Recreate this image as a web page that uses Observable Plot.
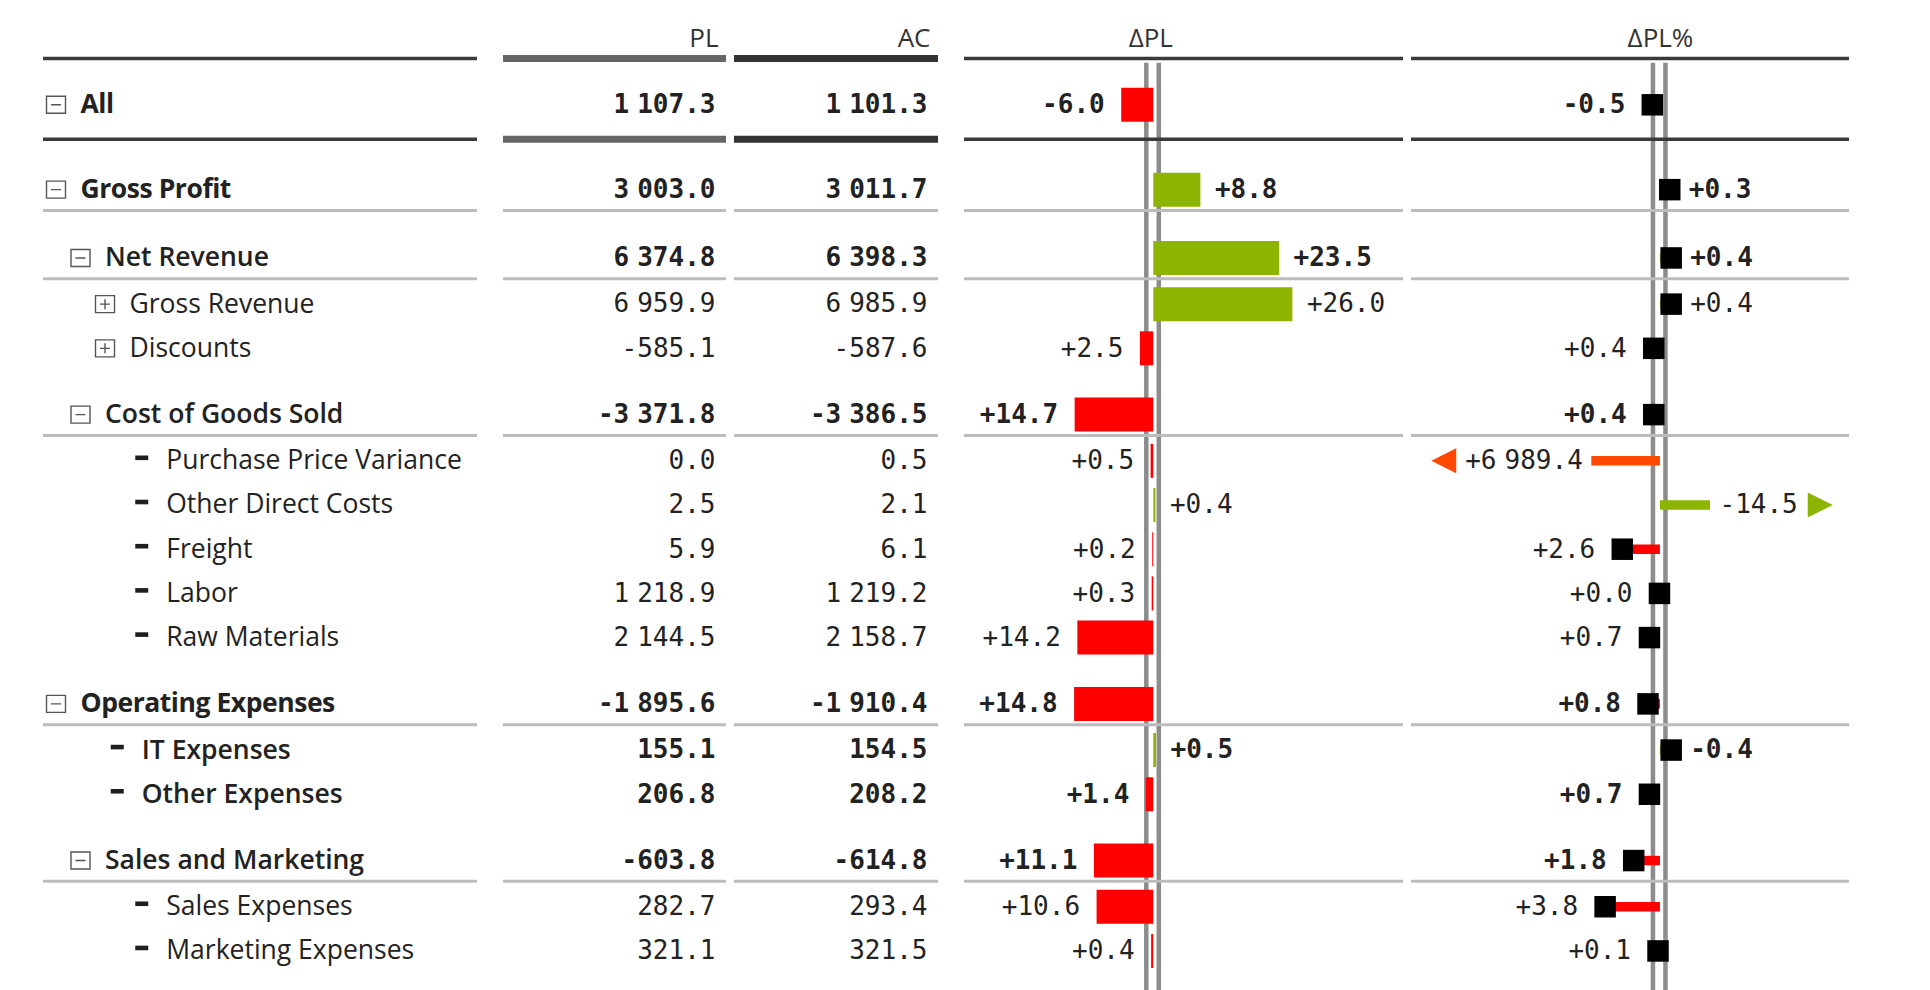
<!DOCTYPE html>
<html><head><meta charset="utf-8">
<script src="https://cdn.jsdelivr.net/npm/d3@7"></script>
<script src="https://cdn.jsdelivr.net/npm/@observablehq/plot@0.6"></script>
<style>
html,body{margin:0;padding:0;background:#fff;}
#chart{position:relative;width:1930px;height:990px;overflow:hidden;}
#chart > svg{position:absolute;top:0;overflow:visible;}
</style></head><body><div id="chart"></div>
<script>
// ---------- data ----------
const labels = ["All","Gross Profit","Net Revenue","Gross Revenue","Discounts","Cost of Goods Sold","Purchase Price Variance","Other Direct Costs","Freight","Labor","Raw Materials","Operating Expenses","IT Expenses","Other Expenses","Sales and Marketing","Sales Expenses","Marketing Expenses"];
const depth = [0,0,1,2,2,1,2,2,2,2,2,0,1,1,1,2,2];
const kind = ["open","open","open","closed","closed","open","leaf","leaf","leaf","leaf","leaf","open","leaf","leaf","open","leaf","leaf"];
const plValues = [1107.3,3003.0,6374.8,6959.9,-585.1,-3371.8,0.0,2.5,5.9,1218.9,2144.5,-1895.6,155.1,206.8,-603.8,282.7,321.1];
const acValues = [1101.3,3011.7,6398.3,6985.9,-587.6,-3386.5,0.5,2.1,6.1,1219.2,2158.7,-1910.4,154.5,208.2,-614.8,293.4,321.5];
// bar direction: negative = unfavourable (red, left), positive = favourable (green, right)
const deltaPL = [-6.0,8.8,23.5,26.0,-2.5,-14.7,-0.5,0.4,-0.2,-0.3,-14.2,-14.8,0.5,-1.4,-11.1,-10.6,-0.4];
const deltaPLLabels = ["-6.0","+8.8","+23.5","+26.0","+2.5","+14.7","+0.5","+0.4","+0.2","+0.3","+14.2","+14.8","+0.5","+1.4","+11.1","+10.6","+0.4"];
const deltaPct = [-0.5,0.3,0.4,0.4,-0.4,-0.4,-6989.4,14.5,-2.6,0.0,-0.7,-0.8,0.4,-0.7,-1.8,-3.8,-0.1];
const deltaPctLabels = ["-0.5","+0.3","+0.4","+0.4","+0.4","+0.4","+6\u2009989.4","-14.5","+2.6","+0.0","+0.7","+0.8","-0.4","+0.7","+1.8","+3.8","+0.1"];
const deltaPctBreak = [-4.8, 3.5];   // axis break for outliers
const headers = ["PL","AC","ΔPL","ΔPL%"];

// ---------- derived ----------
const RED = "#ff0000", GREEN = "#8cb400", ORANGE = "#ff4800";
const NUM = "DejaVu Sans Mono", SANS = "Open Sans";
const NUM_SIZE = 26, THIN_SIZE = 13.3;
const fmt = d3.formatLocale({decimal: ".", thousands: "\u2009", grouping: [3], currency: ["", ""], minus: "-"}).format(",.1f");

const rows = labels.map((label, i) => ({
  label, depth: depth[i], kind: kind[i], pl: plValues[i], ac: acValues[i],
  dpl: deltaPL[i], dplLabel: deltaPLLabels[i], dpct: deltaPct[i], dpctLabel: deltaPctLabels[i], i
}));
let p = 0;
rows.forEach((r, i) => {
  if (i > 0) {
    p += 1;
    if (r.kind === "open") p += 0.5;
    if (i - 1 === 0) p += 0.42; else if (rows[i - 1].kind === "open") p += 0.045;
  }
  r.pos = p;
  r.bold = r.depth <= 1;
});
const headerY = -1.5;
const heavyRules = [{pos: -1.05}, {pos: 0.78}];
const groupRules = rows.filter((r, i) => i > 0 && r.kind === "open").map(r => ({pos: r.pos + 0.47}));
const yScale = {domain: [-2.36, 20.04], range: [0, 990], axis: null};

const chart = document.getElementById("chart");
function place(svg, left) { svg.style.left = left + "px"; chart.appendChild(svg); return svg; }
function base(width, ml, mr, x, marks) {
  return Plot.plot({width, height: 990, marginTop: 0, marginBottom: 0, marginLeft: ml, marginRight: mr,
    x: x || {axis: null}, y: yScale, style: {background: "transparent", overflow: "visible"}, marks});
}
function rules(strokeHeavy, widthHeavy) {
  return [
    Plot.ruleY(groupRules, {y: "pos", stroke: "#bcbcbc", strokeWidth: 3}),
    Plot.ruleY(heavyRules, {y: "pos", stroke: strokeHeavy, strokeWidth: widthHeavy})
  ];
}
function splitText(data, opts) {
  return [
    Plot.text(data.filter(d => d.bold), {...opts, fontWeight: "bold"}),
    Plot.text(data.filter(d => !d.bold), {...opts, fontWeight: "normal"})
  ];
}

// custom symbols
const boxMinus = {draw(c){ c.moveTo(-9.5,-8.5); c.lineTo(9.5,-8.5); c.lineTo(9.5,8.5); c.lineTo(-9.5,8.5); c.closePath(); c.moveTo(-5,0); c.lineTo(5,0);} };
const boxPlus = {draw(c){ c.moveTo(-9.5,-8.5); c.lineTo(9.5,-8.5); c.lineTo(9.5,8.5); c.lineTo(-9.5,8.5); c.closePath(); c.moveTo(-5,0); c.lineTo(5,0); c.moveTo(0,-5); c.lineTo(0,5);} };
const dash = {draw(c){ c.moveTo(-6.5,-2.3); c.lineTo(6.5,-2.3); c.lineTo(6.5,2.3); c.lineTo(-6.5,2.3); c.closePath(); } };
const square = {draw(c){ c.moveTo(-10.75,-10.75); c.lineTo(10.75,-10.75); c.lineTo(10.75,10.75); c.lineTo(-10.75,10.75); c.closePath(); } };
const triLeft = {draw(c){ c.moveTo(-12.5,0); c.lineTo(12.5,-12.5); c.lineTo(12.5,12.5); c.closePath(); } };
const triRight = {draw(c){ c.moveTo(12.5,0); c.lineTo(-12.5,-12.5); c.lineTo(-12.5,12.5); c.closePath(); } };

// ---------- label column ----------
const textX = d => d.depth + (d.kind === "leaf" ? 1.5 : 0);
const iconX = d => textX(d) - 1;
const labelWeight = d => d.depth === 0 ? "bold" : (d.depth === 1 ? "600" : "normal");
const labelSvg = place(base(490, 43, 13, {type: "linear", domain: [0, 1], range: [80, 104.5], axis: null}, [
  ...rules("#3a3a3a", 3.5),
  Plot.dot(rows.filter(d => d.kind === "open"), {x: iconX, y: "pos", symbol: boxMinus, r: 5, fill: "none", stroke: "#555", strokeWidth: 1.4}),
  Plot.dot(rows.filter(d => d.kind === "closed"), {x: iconX, y: "pos", symbol: boxPlus, r: 5, fill: "none", stroke: "#555", strokeWidth: 1.4}),
  Plot.dot(rows.filter(d => d.kind === "leaf"), {x: iconX, y: "pos", symbol: dash, r: 5, fill: "#1e1e1e", stroke: "none", dy: -3}),
  ...["bold", "600", "normal"].map(w => Plot.text(rows.filter(d => labelWeight(d) === w), {x: textX, y: "pos", text: "label", textAnchor: "start", fontFamily: SANS, fontSize: 26.5, fontWeight: w, fill: "#222"}))
]), 0);
labelSvg.querySelectorAll('g[font-weight="bold"]').forEach(g => g.setAttribute("letter-spacing", "-0.45"));

// ---------- PL / AC columns ----------
function valueColumn(left, width, ml, mr, key, header, heavyColor) {
  place(base(width, ml, mr, null, [
    ...rules(heavyColor, 7),
    Plot.text([header], {y: headerY, text: d => d, frameAnchor: "right", textAnchor: "end", dx: -8, fontFamily: SANS, fontSize: 26, fill: "#333"}),
    ...splitText(rows, {y: "pos", text: d => fmt(d[key]), frameAnchor: "right", textAnchor: "end", dx: -11, fontFamily: NUM, fontSize: NUM_SIZE, fill: "#222"})
  ]), left);
}
valueColumn(490, 240, 13, 4, "pl", headers[0], "#666666");
valueColumn(730, 215, 4, 7, "ac", headers[1], "#333333");

// ---------- ΔPL column ----------
const axisLines = [
  Plot.ruleX([0], {y1: -0.94, y2: 20.06, dx: -7.5, stroke: "#8c8c8c", strokeWidth: 4.5}),
  Plot.ruleX([0], {y1: -0.94, y2: 20.06, dx: 5, stroke: "#8c8c8c", strokeWidth: 4.5})
];
place(base(460, 14, 7, {domain: [-35.38, 46.67], axis: null}, [
  ...axisLines,
  ...rules("#3a3a3a", 3.5),
  Plot.text([headers[2]], {x: 0, y: headerY, text: d => d, dx: -3, fontFamily: SANS, fontSize: 26, fill: "#333"}),
  Plot.ruleY(rows, {y: "pos", x1: 0, x2: "dpl", stroke: d => d.dpl < 0 ? RED : GREEN, strokeWidth: 34}),
  ...splitText(rows.filter(d => d.dpl < 0), {x: "dpl", y: "pos", text: "dplLabel", textAnchor: "end", dx: -17, fontFamily: NUM, fontSize: NUM_SIZE, fill: "#222"}),
  ...splitText(rows.filter(d => d.dpl >= 0), {x: "dpl", y: "pos", text: "dplLabel", textAnchor: "start", dx: 14, fontFamily: NUM, fontSize: NUM_SIZE, fill: "#222"})
]), 950);

// ---------- ΔPL% column ----------
const [capLo, capHi] = deltaPctBreak;
const isOut = d => d.dpct < capLo || d.dpct > capHi;
const clampPct = d => Math.max(capLo, Math.min(capHi, d.dpct));
const ctx = document.createElement("canvas").getContext("2d");
const textWidth = (s, bold) => {
  const parts = s.split("\u2009");
  ctx.font = (bold ? "bold " : "") + NUM_SIZE + "px '" + NUM + "'";
  let w = ctx.measureText(parts.join("")).width;
  ctx.font = (bold ? "bold " : "") + THIN_SIZE + "px '" + NUM + "'";
  w += (parts.length - 1) * ctx.measureText("\u2009").width;
  return w;
};
const normal = rows.filter(d => !isOut(d));
const outs = rows.filter(isOut);
const outLo = outs.filter(d => d.dpct < 0), outHi = outs.filter(d => d.dpct > 0);
place(base(525, 6, 81, {domain: [-17.41, 13.22], axis: null}, [
  ...axisLines,
  ...rules("#3a3a3a", 3.5),
  Plot.text([headers[3]], {x: 0, y: headerY, text: d => d, fontFamily: SANS, fontSize: 26, fill: "#333"}),
  Plot.ruleY(rows, {y: "pos", x1: 0, x2: clampPct, stroke: d => isOut(d) ? (d.dpct < 0 ? ORANGE : GREEN) : (d.dpct <= 0 ? RED : GREEN), strokeWidth: 9.5}),
  Plot.dot(normal.filter(d => d.dpct <= 0), {x: "dpct", y: "pos", symbol: square, r: 5, fill: "#000", dx: -1}),
  Plot.dot(normal.filter(d => d.dpct > 0), {x: "dpct", y: "pos", symbol: square, r: 5, fill: "#000", dx: 5}),
  ...splitText(normal.filter(d => d.dpct <= 0), {x: "dpct", y: "pos", text: "dpctLabel", textAnchor: "end", dx: -28, fontFamily: NUM, fontSize: NUM_SIZE, fill: "#222"}),
  ...splitText(normal.filter(d => d.dpct > 0), {x: "dpct", y: "pos", text: "dpctLabel", textAnchor: "start", dx: 24, fontFamily: NUM, fontSize: NUM_SIZE, fill: "#222"}),
  ...splitText(outLo, {x: clampPct, y: "pos", text: "dpctLabel", textAnchor: "end", dx: -9, fontFamily: NUM, fontSize: NUM_SIZE, fill: "#222"}),
  ...splitText(outHi, {x: clampPct, y: "pos", text: "dpctLabel", textAnchor: "start", dx: 9, fontFamily: NUM, fontSize: NUM_SIZE, fill: "#222"}),
  ...outLo.map(d => Plot.dot([d], {x: clampPct, y: "pos", symbol: triLeft, r: 5, fill: ORANGE, dx: -(9 + textWidth(d.dpctLabel, d.bold) + 9 + 12.5)})),
  ...outHi.map(d => Plot.dot([d], {x: clampPct, y: "pos", symbol: triRight, r: 5, fill: GREEN, dx: 9 + textWidth(d.dpctLabel, d.bold) + 10 + 12.5}))
]), 1405);

// narrow thousands separator: render the thin space at a smaller size inside the monospaced numbers
const svgNS = "http://www.w3.org/2000/svg";
chart.querySelectorAll("text").forEach(t => {
  if (t.children.length === 0 && t.textContent.includes("\u2009")) {
    const parts = t.textContent.split("\u2009");
    t.textContent = "";
    parts.forEach((s, k) => {
      if (k > 0) {
        const sp = document.createElementNS(svgNS, "tspan");
        sp.setAttribute("font-size", THIN_SIZE);
        sp.textContent = "\u2009";
        t.appendChild(sp);
      }
      t.appendChild(document.createTextNode(s));
    });
  }
});
</script></body></html>
